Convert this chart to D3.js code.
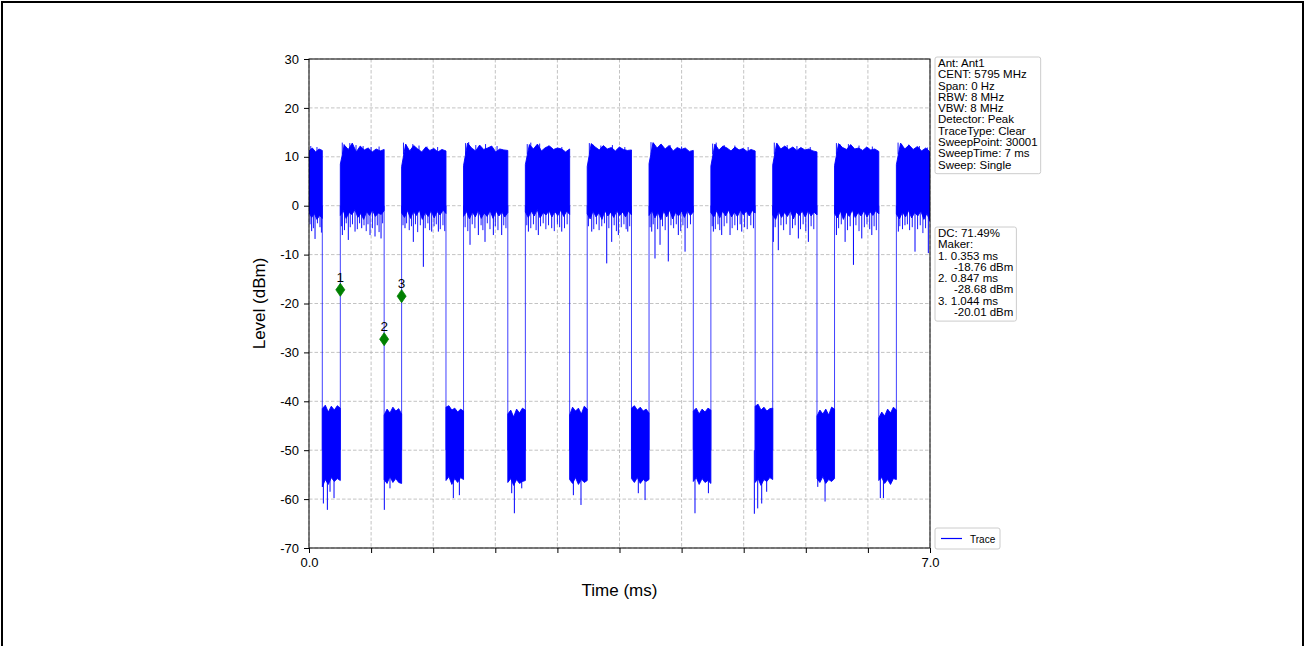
<!DOCTYPE html>
<html><head><meta charset="utf-8">
<script src="https://cdn.jsdelivr.net/npm/d3@7"></script>
<style>
body{margin:0;background:#fff;}
svg{display:block;font-family:"Liberation Sans",Arial,Helvetica,sans-serif;}
</style></head><body>
<svg id="chart" width="1306" height="646"></svg>
<script>
// ---------------- data ----------------
const yTicks = [30, 20, 10, 0, -10, -20, -30, -40, -50, -60, -70];
const xTicks = [0, 0.7, 1.4, 2.1, 2.8, 3.5, 4.2, 4.9, 5.6, 6.3, 7.0];
const xTickLabels = ["0.0", "", "", "", "", "", "", "", "", "", "7.0"];
const timeEnd = 7.0;

// burst edges (ms)
const riseTimes = [0.353, 1.044, 1.742, 2.439, 3.136, 3.833, 4.530, 5.227, 5.924, 6.621];
const fallTimes = [0.150, 0.847, 1.544, 2.241, 2.938, 3.635, 4.332, 5.029, 5.726, 6.423];

// "on" bursts: upper envelope (dBm), evenly spread over each burst
const hiTop = [
  [11.2, 11.8, 11.0, 11.6, 11.3],
  [8.5, 12.4, 11.5, 12.8, 11.0, 12.2, 11.4, 11.8, 11.0, 11.6, 11.2, 11.5],
  [8.0, 12.6, 11.2, 12.3, 11.6, 11.0, 12.0, 11.3, 11.7, 11.0, 11.5, 11.2],
  [8.2, 12.8, 11.8, 11.2, 12.4, 11.5, 11.8, 12.2, 11.0, 11.6, 11.4, 11.3],
  [8.4, 12.5, 11.6, 12.6, 11.2, 11.9, 12.2, 11.5, 11.8, 11.6, 11.0, 11.6],
  [8.0, 12.7, 12.0, 11.4, 12.3, 11.6, 11.9, 11.2, 12.0, 11.5, 11.3, 11.4],
  [8.6, 12.9, 11.8, 12.6, 11.6, 12.3, 11.2, 11.9, 11.5, 11.8, 11.1, 11.3],
  [8.1, 12.6, 11.4, 12.2, 11.8, 11.2, 12.0, 11.4, 11.7, 11.1, 11.5, 11.2],
  [8.3, 12.8, 11.6, 12.2, 11.5, 12.0, 11.3, 11.9, 11.4, 11.6, 11.2, 11.0],
  [8.2, 12.7, 11.9, 11.5, 12.5, 11.6, 11.8, 11.3, 12.0, 11.4, 11.6, 11.1],
  [8.4, 12.8, 11.6, 12.4, 11.5, 12.1, 11.2, 11.8, 11.0]
];
// "on" bursts: lower edge of the dense core (dBm)
const hiBot = [
  [-1.4, -2.4, -1.6, -2.8, -2.0, -2.6],
  [-2.0, -1.0, -2.6, -1.4, -1.8, -0.8, -2.4, -1.6, -2.8, -1.2, -2.0, -0.9, -2.2, -1.5, -1.8, -1.0],
  [-1.5, -2.4, -1.0, -2.6, -1.2, -2.0, -0.9, -2.8, -1.4, -2.2, -1.0, -2.5, -1.2, -1.9, -0.9, -1.6],
  [-2.2, -1.2, -2.7, -1.3, -2.3, -0.9, -2.6, -1.5, -2.2, -1.0, -2.6, -1.1, -2.1, -1.3, -2.3, -1.4],
  [-1.3, -2.4, -1.1, -2.1, -0.8, -2.5, -1.4, -1.9, -1.0, -2.3, -1.2, -2.0, -0.9, -2.2, -1.1, -1.8],
  [-1.7, -2.7, -1.1, -2.3, -1.4, -2.8, -1.0, -2.1, -1.3, -2.4, -1.0, -2.0, -1.3, -2.3, -1.1, -1.9],
  [-2.0, -1.0, -2.5, -1.3, -2.9, -1.1, -2.3, -0.9, -2.7, -1.4, -2.1, -1.1, -2.4, -1.0, -2.0, -1.3],
  [-1.4, -2.3, -1.0, -2.5, -1.1, -2.1, -0.9, -2.3, -1.3, -2.2, -0.9, -1.9, -1.1, -2.1, -1.0, -1.5],
  [-1.9, -2.8, -1.1, -2.4, -1.4, -2.2, -1.0, -2.7, -1.3, -2.0, -1.1, -2.3, -1.0, -2.1, -1.3, -1.9],
  [-1.6, -2.5, -1.1, -2.8, -1.3, -2.2, -0.9, -2.4, -1.4, -2.1, -1.0, -2.3, -1.2, -2.0, -1.0, -1.7],
  [-1.7, -2.7, -1.3, -2.3, -1.0, -2.5, -1.4, -2.1, -1.1, -2.8, -1.6, -3.2]
];
// isolated deep downward spikes in "on" bursts [ms, dBm]
const hiSpikes = [
  [0.030, -5.2], [0.068, -6.8], [0.124, -4.4],
  [0.376, -6.0], [0.443, -7.0], [0.519, -5.3], [0.594, -4.6], [0.688, -6.0], [0.744, -6.3], [0.812, -6.7],
  [1.082, -4.6], [1.176, -7.4], [1.289, -12.5], [1.383, -5.3], [1.458, -5.3],
  [1.815, -8.0], [1.909, -6.0], [1.984, -7.4], [2.078, -6.0], [2.172, -6.0],
  [2.473, -5.3], [2.585, -6.0], [2.736, -4.6], [2.849, -5.3],
  [3.187, -5.3], [3.356, -11.8], [3.412, -7.4], [3.487, -6.0], [3.593, -5.3],
  [3.863, -5.3], [3.900, -10.8], [3.957, -8.0], [4.050, -11.4], [4.163, -6.0], [4.239, -9.4],
  [4.558, -5.3], [4.652, -6.0], [4.746, -6.0], [4.878, -5.3],
  [5.234, -7.4], [5.290, -9.1], [5.422, -6.0], [5.516, -6.7], [5.629, -7.4],
  [5.945, -6.0], [6.043, -7.4], [6.137, -12.1], [6.231, -6.7], [6.344, -6.0],
  [6.643, -5.3], [6.718, -4.0], [6.831, -9.4], [6.981, -9.7]
];
// short downward whiskers below the "on" core [ms, dBm]
const hiWhiskers = [
  [0.012, -3.8], [0.050, -4.6], [0.095, -3.6], [0.140, -5.5],
  [0.365, -4.2], [0.400, -5.0], [0.420, -3.6], [0.465, -4.4], [0.490, -3.8], [0.545, -4.8], [0.570, -3.6],
  [0.620, -4.0], [0.645, -5.2], [0.665, -3.8], [0.715, -4.6], [0.770, -4.0], [0.790, -5.4], [0.830, -3.6],
  [1.060, -4.0], [1.100, -3.6], [1.130, -5.0], [1.155, -4.2], [1.200, -3.8], [1.225, -5.4], [1.255, -4.0],
  [1.310, -4.6], [1.340, -3.6], [1.360, -5.0], [1.410, -4.2], [1.435, -3.8], [1.480, -4.8], [1.510, -4.0], [1.530, -5.2],
  [1.760, -4.4], [1.790, -5.2], [1.840, -3.8], [1.870, -4.6], [1.940, -4.0], [1.960, -5.0], [2.010, -3.6],
  [2.040, -4.8], [2.100, -4.2], [2.130, -5.0], [2.195, -4.0], [2.220, -4.6],
  [2.455, -4.0], [2.500, -4.6], [2.530, -3.8], [2.560, -5.0], [2.610, -4.2], [2.640, -3.6], [2.670, -4.8],
  [2.700, -4.0], [2.765, -5.2], [2.800, -3.8], [2.825, -4.4], [2.880, -4.6], [2.910, -3.8],
  [3.150, -4.2], [3.210, -4.8], [3.240, -3.8], [3.270, -5.0], [3.300, -4.2], [3.330, -3.6], [3.380, -4.6],
  [3.440, -4.0], [3.465, -5.2], [3.520, -4.4], [3.550, -3.8], [3.575, -4.8], [3.615, -4.2],
  [3.845, -4.4], [3.880, -3.8], [3.930, -4.8], [3.985, -4.2], [4.015, -5.0], [4.080, -4.0], [4.110, -4.6],
  [4.140, -3.8], [4.190, -5.2], [4.215, -4.0], [4.265, -4.6], [4.300, -3.8],
  [4.545, -4.2], [4.580, -4.8], [4.610, -3.8], [4.630, -5.0], [4.680, -4.2], [4.710, -3.6], [4.770, -4.6],
  [4.800, -4.0], [4.830, -5.0], [4.860, -3.8], [4.910, -4.4], [4.940, -4.8], [4.980, -4.0], [5.010, -4.6],
  [5.255, -4.4], [5.320, -4.0], [5.350, -5.0], [5.380, -3.8], [5.450, -4.6], [5.480, -4.0], [5.540, -4.8],
  [5.570, -3.8], [5.600, -5.2], [5.660, -4.2], [5.690, -4.8],
  [5.970, -4.6], [6.000, -3.8], [6.070, -5.0], [6.100, -4.2], [6.165, -4.0], [6.200, -5.2], [6.260, -4.4],
  [6.290, -3.8], [6.320, -4.8], [6.370, -4.2], [6.395, -5.0],
  [6.660, -4.2], [6.690, -4.8], [6.745, -3.8], [6.770, -5.0], [6.800, -4.4], [6.860, -4.8], [6.890, -4.0],
  [6.920, -5.6], [6.950, -4.6]
];
// upward peaks above the "on" core [ms, dBm]
const hiPeaks = [
  [0.020, 12.2], [0.090, 12.0],
  [0.375, 12.9], [0.395, 12.6], [0.460, 12.8], [0.530, 12.4], [0.610, 12.2], [0.700, 12.0], [0.790, 12.1],
  [1.065, 12.9], [1.090, 12.5], [1.170, 12.6], [1.240, 12.3], [1.330, 12.1], [1.450, 12.0],
  [1.765, 12.8], [1.800, 13.0], [1.880, 12.4], [1.990, 12.6], [2.120, 12.2],
  [2.460, 12.6], [2.500, 12.9], [2.600, 12.7], [2.700, 12.3], [2.850, 12.0],
  [3.160, 12.8], [3.200, 12.5], [3.290, 12.3], [3.420, 12.4], [3.560, 12.0],
  [3.855, 13.0], [3.880, 12.8], [3.960, 12.5], [4.070, 12.4], [4.200, 12.1],
  [4.550, 12.7], [4.590, 12.9], [4.680, 12.4], [4.800, 12.3], [4.950, 12.0],
  [5.245, 12.9], [5.280, 12.6], [5.390, 12.4], [5.500, 12.2], [5.650, 12.0],
  [5.945, 12.8], [5.990, 12.5], [6.080, 12.6], [6.200, 12.3], [6.350, 12.1],
  [6.640, 12.9], [6.680, 12.6], [6.760, 12.5], [6.880, 12.2], [6.970, 11.9]
];
// "off" gaps: upper and lower envelope (dBm)
const loTop = [
  [-41.5, -40.8, -42.2, -41.0, -41.8, -40.9, -41.4],
  [-42.8, -41.6, -42.4, -41.2, -42.0, -41.5, -42.6],
  [-41.2, -40.9, -41.8, -41.4, -42.2, -41.6, -42.0],
  [-42.6, -41.8, -43.2, -41.6, -42.4, -41.4, -41.8],
  [-42.8, -41.2, -42.0, -41.4, -42.6, -41.0, -41.6],
  [-41.4, -40.9, -41.8, -41.2, -42.0, -41.6, -42.4],
  [-42.0, -41.4, -42.6, -41.6, -42.2, -41.4, -41.8],
  [-41.0, -40.6, -41.8, -41.2, -42.0, -41.5, -41.4],
  [-43.0, -41.8, -42.6, -41.6, -42.8, -41.2, -41.6],
  [-43.4, -42.2, -43.0, -41.6, -42.4, -41.2, -41.8]
];
const loBot = [
  [-57.5, -56.0, -57.0, -55.6, -56.4, -55.8, -56.2],
  [-56.0, -56.8, -55.4, -56.6, -55.8, -56.6, -56.8],
  [-56.2, -55.4, -57.0, -55.8, -56.6, -55.6, -56.0],
  [-56.6, -55.8, -57.2, -56.0, -56.8, -56.4, -56.2],
  [-56.0, -56.8, -55.6, -57.0, -56.0, -56.6, -56.2],
  [-55.8, -56.6, -55.6, -56.8, -56.0, -56.4, -56.0],
  [-56.4, -55.6, -57.0, -55.8, -56.6, -56.2, -56.8],
  [-56.6, -55.8, -57.2, -56.0, -56.4, -55.6, -56.0],
  [-55.8, -56.6, -55.4, -56.8, -56.0, -56.4, -55.8],
  [-56.2, -55.6, -56.8, -56.0, -57.0, -55.8, -56.0]
];
const loSpikes = [
  [0.162, -60.9], [0.207, -62.2], [0.237, -58.5], [0.282, -59.8],
  [0.849, -62.2], [0.913, -57.8],
  [1.627, -59.8], [1.695, -59.2],
  [2.285, -58.8], [2.315, -62.9], [2.398, -57.8],
  [2.980, -59.2], [3.066, -61.2],
  [3.712, -58.8], [3.788, -60.2],
  [4.351, -62.9], [4.502, -58.8],
  [5.020, -63.0], [5.058, -61.9], [5.103, -60.9], [5.159, -58.5],
  [5.735, -57.5], [5.817, -60.5],
  [6.440, -59.8], [6.475, -59.8]
];

// markers
const markerLabels = ["1", "2", "3"];
const markerTimes = [0.353, 0.847, 1.044];
const markerPlotLevels = [-17.2, -27.3, -18.5];
const markerReportLevels = [-18.76, -28.68, -20.01];
const dutyCycle = 71.49;

const infoLines = ["Ant: Ant1", "CENT: 5795 MHz", "Span: 0 Hz", "RBW: 8 MHz", "VBW: 8 MHz",
  "Detector: Peak", "TraceType: Clear", "SweepPoint: 30001", "SweepTime: 7 ms", "Sweep: Single"];
const legendLabel = "Trace";

// ---------------- drawing ----------------
const W = 1306, H = 646;
const plot = {left: 309, right: 930, top: 59, bottom: 548};
const svg = d3.select("#chart");
const x = d3.scaleLinear().domain([0, timeEnd]).range([plot.left, plot.right]);
const y = d3.scaleLinear().domain([-70, 30]).range([plot.bottom, plot.top]);
const BLUE = "#0000ff";

svg.append("rect").attr("width", W).attr("height", H).attr("fill", "#fff");
svg.append("path").attr("d", `M2,${H} V2 H${W - 3} V${H}`)
  .attr("fill", "none").attr("stroke", "#000").attr("stroke-width", 2);

// grid
const grid = svg.append("g");
grid.selectAll("line.h").data(yTicks).join("line")
  .attr("x1", plot.left).attr("x2", plot.right)
  .attr("y1", d => y(d)).attr("y2", d => y(d))
  .attr("stroke", "#b4b4b4").attr("stroke-width", 0.8).attr("stroke-dasharray", "3.5,2");
grid.selectAll("line.v").data(xTicks).join("line")
  .attr("y1", plot.top).attr("y2", plot.bottom)
  .attr("x1", d => x(d)).attr("x2", d => x(d))
  .attr("stroke", "#b4b4b4").attr("stroke-width", 0.8).attr("stroke-dasharray", "3.5,2");

// trace
svg.append("clipPath").attr("id", "clip").append("rect")
  .attr("x", plot.left).attr("y", plot.top)
  .attr("width", plot.right - plot.left).attr("height", plot.bottom - plot.top);
const tr = svg.append("g").attr("clip-path", "url(#clip)");

const hiSpans = [[0, fallTimes[0]]].concat(riseTimes.map((r, i) => [r, i + 1 < fallTimes.length ? fallTimes[i + 1] : timeEnd]));
const loSpans = fallTimes.map((f, i) => [f, riseTimes[i]]);
const spread = (span, vals) => vals.map((v, k) => [span[0] + k * (span[1] - span[0]) / (vals.length - 1), v]);
const line = d3.line().x(d => x(d[0])).y(d => y(d[1]));

function drawBlock(span, top, bot) {
  const pts = spread(span, top).concat(spread(span, bot).reverse());
  tr.append("path").attr("d", line(pts) + "Z")
    .attr("fill", BLUE).attr("stroke", BLUE).attr("stroke-width", 0.9);
}
hiSpans.forEach((s, i) => drawBlock(s, hiTop[i], hiBot[i]));
loSpans.forEach((s, i) => drawBlock(s, loTop[i], loBot[i]));

// transitions between on/off states
const edges = fallTimes.concat(riseTimes);
tr.selectAll("line.edge").data(edges).join("line")
  .attr("x1", d => x(d)).attr("x2", d => x(d))
  .attr("y1", y(0)).attr("y2", y(-50))
  .attr("stroke", BLUE).attr("stroke-width", 1).attr("stroke-opacity", 0.75);

function vlines(data, from, op) {
  tr.append("g").selectAll("line").data(data).join("line")
    .attr("x1", d => x(d[0])).attr("x2", d => x(d[0]))
    .attr("y1", y(from)).attr("y2", d => y(d[1]))
    .attr("stroke", BLUE).attr("stroke-width", 1).attr("stroke-opacity", op);
}
vlines(hiSpikes, 0, 1);
vlines(hiWhiskers, 0, 0.9);
vlines(hiPeaks, 10.5, 0.9);
vlines(loSpikes, -50, 1);

// markers
const mk = svg.append("g");
markerTimes.forEach((t, i) => {
  const cx = x(t), cy = y(markerPlotLevels[i]);
  mk.append("path").attr("d", `M${cx},${cy - 6.5}L${cx + 4.5},${cy}L${cx},${cy + 6.5}L${cx - 4.5},${cy}Z`)
    .attr("fill", "#008000").attr("stroke", "#008000").attr("stroke-width", 0.8);
  mk.append("text").attr("x", cx).attr("y", cy - 8).attr("text-anchor", "middle")
    .attr("font-size", 13.5).attr("fill", "#000").text(markerLabels[i]);
});

// axes
const yAxis = svg.append("g").attr("transform", `translate(${plot.left},0)`)
  .call(d3.axisLeft(y).tickValues(yTicks).tickSize(5).tickPadding(5).tickFormat(d3.format("d")));
const xAxis = svg.append("g").attr("transform", `translate(0,${plot.bottom})`)
  .call(d3.axisBottom(x).tickValues(xTicks).tickSize(5).tickPadding(5).tickFormat((d, i) => xTickLabels[i]));
[yAxis, xAxis].forEach(a => {
  a.select(".domain").remove();
  a.selectAll("text").attr("font-size", 13).attr("fill", "#000").attr("font-family", "Liberation Sans, Arial, sans-serif");
  a.selectAll("line").attr("stroke", "#000");
});
yAxis.selectAll("text").text(d => String(d));
svg.append("rect").attr("x", plot.left).attr("y", plot.top)
  .attr("width", plot.right - plot.left).attr("height", plot.bottom - plot.top)
  .attr("fill", "none").attr("stroke", "#000").attr("stroke-width", 1);

svg.append("text").attr("x", (plot.left + plot.right) / 2).attr("y", 596)
  .attr("text-anchor", "middle").attr("font-size", 17).text("Time (ms)");
svg.append("text").attr("transform", `translate(265,${(plot.top + plot.bottom) / 2}) rotate(-90)`)
  .attr("text-anchor", "middle").attr("font-size", 17).text("Level (dBm)");

// info boxes (font slightly stretched horizontally so the tight line spacing of the original fits)
function textBox(lines, bx, by, fs, lh, sx) {
  const g = svg.append("g").attr("transform", `translate(${bx},${by})`);
  const rect = g.append("rect").attr("rx", 2).attr("ry", 2)
    .attr("fill", "rgba(255,255,255,0.85)").attr("stroke", "#cccccc").attr("stroke-width", 1);
  const t = g.append("text").attr("font-size", fs).attr("fill", "#000")
    .attr("transform", `scale(${sx},1)`).style("white-space", "pre");
  lines.forEach((l, i) => t.append("tspan").attr("x", 3 / sx).attr("y", 10 + i * lh).text(l));
  const bb = t.node().getBBox();
  rect.attr("x", 0).attr("y", 0).attr("width", (bb.x + bb.width) * sx + 3).attr("height", 10 + (lines.length - 1) * lh + 5);
  return g;
}
textBox(infoLines, 935, 57, 10, 11.3, 1.15);
const dcLines = [`DC: ${dutyCycle.toFixed(2)}%`, "Maker:"];
markerTimes.forEach((t, i) => {
  dcLines.push(`${markerLabels[i]}. ${t.toFixed(3)} ms`);
  dcLines.push(`     ${markerReportLevels[i].toFixed(2)} dBm`);
});
textBox(dcLines, 935, 227, 10, 11.3, 1.15);

// legend
const lg = svg.append("g").attr("transform", "translate(935,528)");
lg.append("rect").attr("width", 65).attr("height", 21).attr("rx", 2)
  .attr("fill", "#fff").attr("stroke", "#cccccc");
lg.append("line").attr("x1", 6).attr("x2", 27).attr("y1", 10.5).attr("y2", 10.5)
  .attr("stroke", BLUE).attr("stroke-width", 1.2);
lg.append("text").attr("x", 35).attr("y", 14.5).attr("font-size", 10).text(legendLabel);
</script>
</body></html>
